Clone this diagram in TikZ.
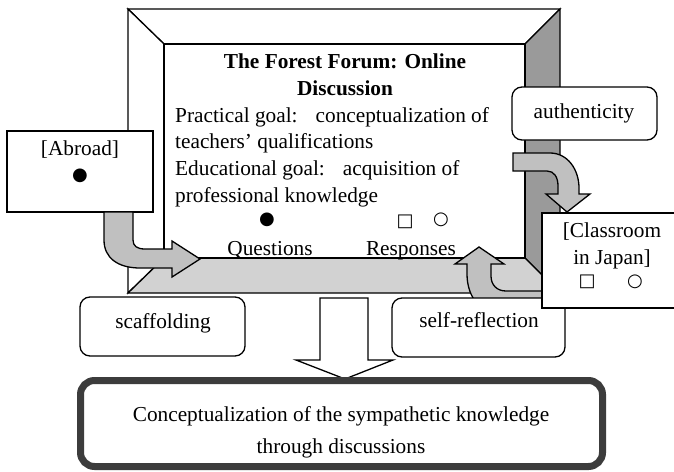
\documentclass[tikz,border=0pt]{standalone}
\usepackage{fontspec}
\setmainfont{Liberation Serif}
\newfontfamily\symfont{DejaVu Sans}
\usetikzlibrary{positioning}
\definecolor{ForumDark}{HTML}{9A9A9A}
\definecolor{ForumLight}{HTML}{D2D2D2}
\definecolor{ForumArrow}{HTML}{C0C0C0}
\definecolor{ForumRim}{HTML}{3C3C3C}
\newcommand\forumsize{\fontsize{21.3}{26.7}\selectfont}

\begin{document}
\begin{tikzpicture}[x=1pt,y=-1pt,
    bevel/.style={draw=black,line width=1.3pt,line join=miter},
    boxline/.style={draw=black,line width=1.3pt,fill=white},
    bigarrow/.style={draw=black,line width=1.3pt,fill=ForumArrow,line join=miter},
    txt/.style={inner sep=0pt,font=\forumsize,anchor=base},
    mark sym/.style={inner sep=0pt,anchor=center,font=\symfont\fontsize{18}{20}\selectfont}]
  \useasboundingbox (0,0) rectangle (674,471);
  \fill[white] (0,0) rectangle (674,471);

  % bevelled frame of the forum
  \coordinate (otl) at (128,9);   \coordinate (otr) at (560,9);
  \coordinate (obr) at (560,293); \coordinate (obl) at (128,293);
  \coordinate (itl) at (164,44);  \coordinate (itr) at (525,44);
  \coordinate (ibr) at (525,258); \coordinate (ibl) at (164,258);
  \draw[bevel,fill=white] (otl) -- (otr) -- (itr) -- (itl) -- cycle;
  \draw[bevel,fill=white] (otl) -- (itl) -- (ibl) -- (obl) -- cycle;
  \draw[bevel,fill=ForumDark] (otr) -- (obr) -- (ibr) -- (itr) -- cycle;
  \draw[bevel,fill=ForumLight] (obl) -- (ibl) -- (ibr) -- (obr) -- cycle;
  \draw[bevel,fill=white] (itl) rectangle (ibr);

  \node[txt,anchor=north,align=center,font=\forumsize\bfseries] (title)
    at (345,54) {The Forest Forum: Online\\Discussion};
  \node[txt,anchor=north west,align=left] (goals) at (175,107)
    {Practical goal:\hspace{18pt}conceptualization of\\
     teachers’ qualifications\\
     Educational goal:\hspace{18pt}acquisition of\\
     professional knowledge};
  \node[mark sym] (qdot) at (267,220) {●};
  \node[mark sym] (rsquare) at (405,222) {□};
  \node[mark sym] (rcircle) at (441,220) {○};
  \node[txt] (questions) at (270,255) {Questions};
  \node[txt] (responses) at (411,255) {Responses};

  % abroad
  \draw[boxline] (7,131) rectangle (153,212);
  \node[txt] (abroad) at (80,155) {[Abroad]};
  \node[mark sym] (adot) at (80,176) {●};
  \draw[bigarrow] (104,212) -- (104,240)
    .. controls (104,258) and (118,268) .. (140,268) -- (172,268)
    -- (172,277) -- (200,259) -- (172,241) -- (172,249) -- (145,249)
    .. controls (137,249) and (133,246) .. (133,240) -- (133,212) -- cycle;

  % authenticity
  \draw[boxline,rounded corners=10pt] (512,87) rectangle (657,140);
  \node[txt] (authenticity) at (584,118) {authenticity};
  \draw[bigarrow] (513,153) -- (550,153)
    .. controls (568,153) and (579,170) .. (579,188) -- (579,194)
    -- (590,194) -- (567,212) -- (546,194) -- (558,194) -- (558,186)
    .. controls (558,177) and (554,171) .. (547,171) -- (513,171) -- cycle;

  % self-reflection
  \draw[bigarrow] (542,291) -- (506,291)
    .. controls (497,291) and (491,285) .. (491,276) -- (491,264)
    -- (504,264) -- (479,247) -- (455,264) -- (467,264) -- (467,274)
    .. controls (467,298) and (482,316) .. (506,318) -- (542,318) -- cycle;
  \draw[boxline,rounded corners=10pt] (392,298) rectangle (565,357);
  \node[txt] (selfreflection) at (479,327) {self-reflection};

  % classroom
  \draw[boxline] (542,213) rectangle (685,308);
  \node[txt,anchor=north,align=center] (classroom) at (612,223)
    {[Classroom\\in Japan]};
  \node[mark sym] (csquare) at (587,282) {□};
  \node[mark sym] (ccircle) at (635,282) {○};

  % scaffolding
  \draw[boxline,rounded corners=10pt] (80,297) rectangle (245,356);
  \node[txt] (scaffolding) at (163,328) {scaffolding};

  % outcome
  \draw[draw=black,line width=1.3pt,fill=white] (320,298) -- (368,298)
    -- (368,360) -- (393,360) -- (345,379) -- (296,360) -- (320,360) -- cycle;
  \draw[draw=ForumRim,line width=7pt,rounded corners=14pt,fill=white]
    (80.5,380.5) rectangle (602.5,466.5);
  \node[txt,anchor=north,align=center,font=\fontsize{21.3}{32}\selectfont]
    (outcome) at (341,406)
    {Conceptualization of the sympathetic knowledge\\through discussions};
\end{tikzpicture}
\end{document}
